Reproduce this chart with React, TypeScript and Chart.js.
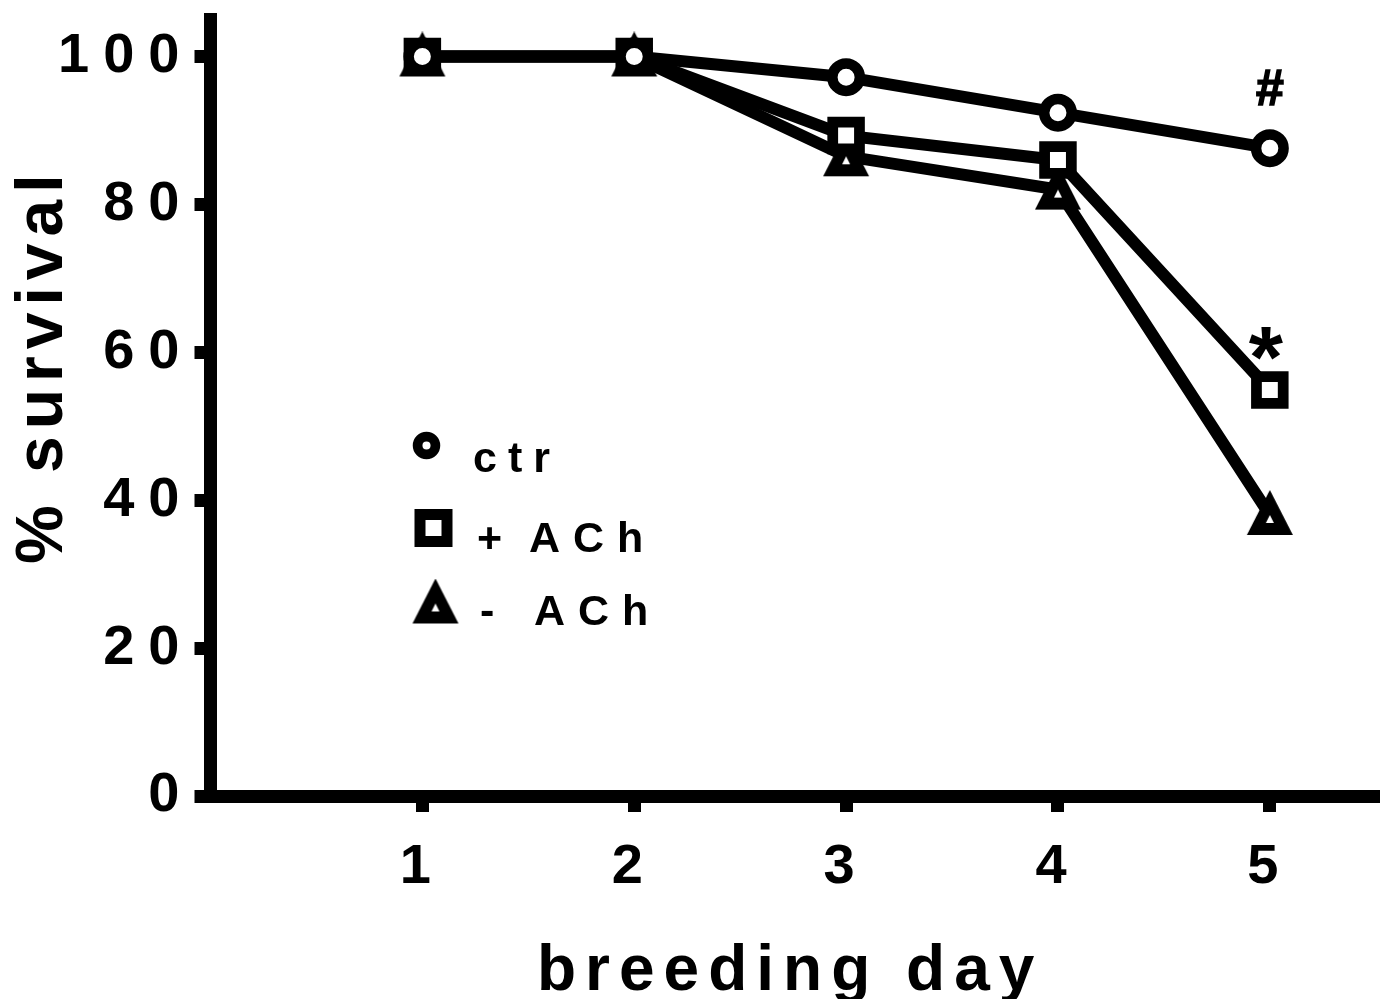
import React, { useEffect, useRef } from 'react';
import { Chart, registerables } from 'chart.js';

Chart.register(...registerables);

// ---- data ----
const days = [1, 2, 3, 4, 5];
const ctrValues = [100, 100, 97.2, 92.4, 87.6];
const plusAChValues = [100, 100, 89.3, 86.0, 54.9];
const minusAChValues = [100, 100, 86.5, 82.0, 38.0];
const seriesLabels = ['ctr', '+ ACh', '- ACh'];
const xTickValues = [1, 2, 3, 4, 5];
const yTickValues = [0, 20, 40, 60, 80, 100];
const xTitle = 'breeding day';
const yTitle = '% survival';
const annotationTexts = ['#', '*'];

const FONT = '"Liberation Sans", Arial, Helvetica, sans-serif';

const toPoints = (vals: number[]) => days.map((d, i) => ({ x: d, y: vals[i] }));

// open triangle symbol (bounding box 46 x 45, centred 2.5px above the data point)
function makeTriangleSymbol(): HTMLCanvasElement {
  const c = document.createElement('canvas');
  c.width = 50;
  c.height = 50;
  const g = c.getContext('2d') as CanvasRenderingContext2D;
  g.fillStyle = '#000';
  g.beginPath();
  g.moveTo(25, 0);
  g.lineTo(48, 45);
  g.lineTo(2, 45);
  g.closePath();
  g.fill();
  g.fillStyle = '#fff';
  g.beginPath();
  g.moveTo(25, 25);
  g.lineTo(29, 33);
  g.lineTo(21, 33);
  g.closePath();
  g.fill();
  return c;
}

function drawCircle(ctx: CanvasRenderingContext2D, x: number, y: number, r: number, lw: number) {
  ctx.beginPath();
  ctx.arc(x, y, r, 0, Math.PI * 2);
  ctx.fillStyle = '#fff';
  ctx.fill();
  ctx.lineWidth = lw;
  ctx.strokeStyle = '#000';
  ctx.stroke();
}
function drawSquare(ctx: CanvasRenderingContext2D, x: number, y: number, h: number, lw: number) {
  ctx.beginPath();
  ctx.rect(x - h, y - h, 2 * h, 2 * h);
  ctx.fillStyle = '#fff';
  ctx.fill();
  ctx.lineWidth = lw;
  ctx.strokeStyle = '#000';
  ctx.lineJoin = 'miter';
  ctx.stroke();
}

function makeTextPlugin(tri: HTMLCanvasElement) {
  return {
    id: 'customText',
    beforeDraw(chart: any) {
      (chart.ctx as any).letterSpacing = '14px';
    },
    afterDraw(chart: any) {
      const ctx = chart.ctx as CanvasRenderingContext2D;
      const xs = chart.scales.x;
      const ys = chart.scales.y;
      ctx.save();
      ctx.fillStyle = '#000';
      ctx.textBaseline = 'alphabetic';
      ctx.textAlign = 'left';

      // x title
      ctx.font = `bold 64px ${FONT}`;
      (ctx as any).letterSpacing = '9px';
      ctx.fillText(xTitle, 537, 990);

      // y title
      ctx.save();
      ctx.font = `bold 66px ${FONT}`;
      (ctx as any).letterSpacing = '7px';
      ctx.translate(62, 564);
      ctx.rotate(-Math.PI / 2);
      ctx.fillText(yTitle, 0, 0);
      ctx.restore();

      // legend
      drawCircle(ctx, 426.5, 445.5, 8.9, 9.7);
      drawSquare(ctx, 433.5, 528, 13.5, 11);
      ctx.drawImage(tri, 435.5 - 25, 601 - 22.5);
      ctx.fillStyle = '#000';
      ctx.font = `bold 43px ${FONT}`;
      (ctx as any).letterSpacing = '11px';
      ctx.fillText(seriesLabels[0], 473, 472);
      (ctx as any).letterSpacing = '13px';
      const split = (s: string) => [s.slice(0, 1), s.slice(1).trim()];
      const [s1, r1] = split(seriesLabels[1]);
      const [s2, r2] = split(seriesLabels[2]);
      ctx.fillText(s1, 477, 552);
      ctx.fillText(r1, 529, 552);
      ctx.fillText(s2, 480, 625);
      ctx.fillText(r2, 534, 625);

      // significance annotations
      (ctx as any).letterSpacing = '0px';
      ctx.textAlign = 'center';
      const lastIdx = days.length - 1;
      const px = xs.getPixelForValue(days[lastIdx]);
      ctx.font = `bold 50px ${FONT}`;
      ctx.lineWidth = 1.6;
      ctx.strokeStyle = '#000';
      const hy = ys.getPixelForValue(ctrValues[lastIdx]) - 43;
      ctx.fillText(annotationTexts[0], px, hy);
      ctx.strokeText(annotationTexts[0], px, hy);
      ctx.font = `bold 88px ${FONT}`;
      ctx.fillText(annotationTexts[1], px - 4, ys.getPixelForValue(plusAChValues[lastIdx]) - 3);
      ctx.restore();
    },
  };
}

export default function App() {
  const ref = useRef<HTMLCanvasElement | null>(null);
  useEffect(() => {
    if (!ref.current) return;
    const tri = makeTriangleSymbol();
    const common = {
      borderColor: '#000',
      borderWidth: 12,
      pointBackgroundColor: '#fff',
      pointBorderColor: '#000',
      tension: 0,
      fill: false,
      clip: false as any,
    };
    const chart = new Chart(ref.current, {
      type: 'line',
      data: {
        datasets: [
          { ...common, label: seriesLabels[0], data: toPoints(ctrValues), pointStyle: 'circle', pointRadius: 13.75, pointBorderWidth: 10.5 },
          { ...common, label: seriesLabels[1], data: toPoints(plusAChValues), pointStyle: 'rect', pointRadius: 18.9, pointBorderWidth: 10.75 },
          { ...common, label: seriesLabels[2], data: toPoints(minusAChValues), pointStyle: tri, pointRadius: 22, pointBorderWidth: 0 },
        ],
      },
      options: {
        animation: false,
        responsive: true,
        maintainAspectRatio: false,
        events: [],
        layout: { autoPadding: false, padding: { top: 19.5, left: 0, right: 0, bottom: 0 } },
        plugins: { legend: { display: false }, tooltip: { enabled: false } },
        scales: {
          x: {
            type: 'linear',
            min: 0,
            max: 5.52,
            afterBuildTicks: (s: any) => { s.ticks = xTickValues.map((v) => ({ value: v })); },
            afterFit: (s: any) => { s.height = 203; s.paddingLeft = 0; s.paddingRight = 0; },
            grid: { drawOnChartArea: false, drawTicks: true, tickLength: 16, lineWidth: 13, color: '#000', tickColor: '#000' },
            border: { display: true, width: 13, color: '#000' },
            ticks: {
              color: '#000',
              font: { family: FONT, size: 56, weight: 'bold' },
              padding: 22,
              maxRotation: 0,
              autoSkip: false,
              callback: (v: any) => String(v),
            },
          },
          y: {
            type: 'linear',
            min: 0,
            max: 105,
            afterBuildTicks: (s: any) => { s.ticks = yTickValues.map((v) => ({ value: v })); },
            afterFit: (s: any) => { s.width = 210.5; s.paddingTop = 0; s.paddingBottom = 0; },
            grid: { drawOnChartArea: false, drawTicks: true, tickLength: 16, lineWidth: 13, color: '#000', tickColor: '#000' },
            border: { display: true, width: 13, color: '#000' },
            ticks: {
              color: '#000',
              font: { family: FONT, size: 56, weight: 'bold' },
              padding: 1,
              autoSkip: false,
              callback: (v: any) => String(v),
            },
          },
        },
      } as any,
      plugins: [makeTextPlugin(tri)],
    });
    return () => chart.destroy();
  }, []);

  return (
    <div style={{ position: 'fixed', left: 0, top: 0, width: 1380, height: 999, background: '#fff' }}>
      <canvas ref={ref} />
    </div>
  );
}
